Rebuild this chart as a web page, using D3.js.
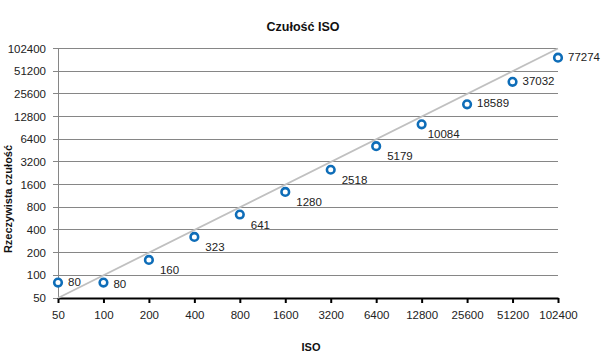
<!DOCTYPE html>
<html><head><meta charset="utf-8">
<script src="https://cdn.jsdelivr.net/npm/d3@7"></script>
<style>body{margin:0;background:#fff}svg{display:block}text{font-family:"Liberation Sans",Arial,sans-serif}</style>
</head><body>
<svg id="c" width="612" height="358"></svg>
<script>
const isoValues = [50,100,200,400,800,1600,3200,6400,12800,25600,51200,102400];
const measured = [80,80,160,323,641,1280,2518,5179,10084,18589,37032,77274];
const tickLabels = ["50","100","200","400","800","1600","3200","6400","12800","25600","51200","102400"];
const labelPlacement = ["right","right","below","below","below","below","below","below","below","right","right","right"];
const referenceLine = [[50,50],[102400,102400]];

const svg = d3.select("#c");
const m = {l:58, r:558, t:48.5, b:298};
const x = d3.scaleLog().base(2).domain([50,102400]).range([m.l,m.r]);
const y = d3.scaleLog().base(2).domain([50,102400]).range([m.b,m.t]);

// gridlines
svg.append("g").selectAll("line").data(isoValues).join("line")
  .attr("x1",m.l-5).attr("x2",m.r).attr("y1",d=>y(d)).attr("y2",d=>y(d))
  .attr("stroke","#868686").attr("stroke-width",1).attr("shape-rendering","crispEdges");
// left axis line
svg.append("line").attr("x1",m.l).attr("x2",m.l).attr("y1",m.t).attr("y2",m.b)
  .attr("stroke","#868686").attr("shape-rendering","crispEdges");

// y tick labels
svg.append("g").selectAll("text").data(isoValues).join("text")
  .attr("x",m.l-12).attr("y",d=>y(d)).attr("dy","0.35em").attr("text-anchor","end")
  .attr("font-size",11.5).attr("fill","#222").text((d,i)=>tickLabels[i]);

// bottom axis
const xAxis = d3.axisBottom(x).tickValues(isoValues).tickSize(5).tickSizeOuter(0).tickFormat((d,i)=>tickLabels[i]).tickPadding(8);
const gx = svg.append("g").attr("transform",`translate(0,${m.b})`).call(xAxis);
gx.select(".domain").attr("stroke","#000").attr("stroke-width",2);
gx.selectAll(".tick line").attr("stroke","#000").attr("stroke-width",2);
gx.selectAll(".tick text").attr("font-size",11.5).attr("fill","#222").attr("font-family","Liberation Sans, Arial, sans-serif");

// reference line
svg.append("path").datum(referenceLine)
  .attr("d",d3.line().x(d=>x(d[0])).y(d=>y(d[1])))
  .attr("stroke","#c0c0c0").attr("stroke-width",1.8).attr("fill","none");

// markers
svg.append("g").selectAll("circle").data(isoValues).join("circle")
  .attr("cx",d=>x(d)).attr("cy",(d,i)=>y(measured[i])).attr("r",3.8)
  .attr("fill","#fff").attr("stroke","#0e6db8").attr("stroke-width",2.6);

// data labels
svg.append("g").selectAll("text").data(isoValues).join("text")
  .attr("x",(d,i)=>x(d)+(labelPlacement[i]==="right"?10:(i===8?6:11)))
  .attr("y",(d,i)=>y(measured[i])+(labelPlacement[i]==="right"?(i===1?1:-1):10))
  .attr("dy","0.35em").attr("font-size",11.5).attr("fill","#222")
  .text((d,i)=>measured[i]);

// titles
svg.append("text").attr("x",303).attr("y",31).attr("text-anchor","middle")
  .attr("font-size",12.5).attr("font-weight","bold").attr("fill","#111").text("Czułość ISO");
svg.append("text").attr("x",311).attr("y",351).attr("text-anchor","middle")
  .attr("font-size",11).attr("font-weight","bold").attr("fill","#111").text("ISO");
svg.append("text").attr("transform","translate(12,199) rotate(-90)").attr("text-anchor","middle")
  .attr("font-size",11).attr("font-weight","bold").attr("fill","#111").text("Rzeczywista czułość");
</script>
</body></html>
